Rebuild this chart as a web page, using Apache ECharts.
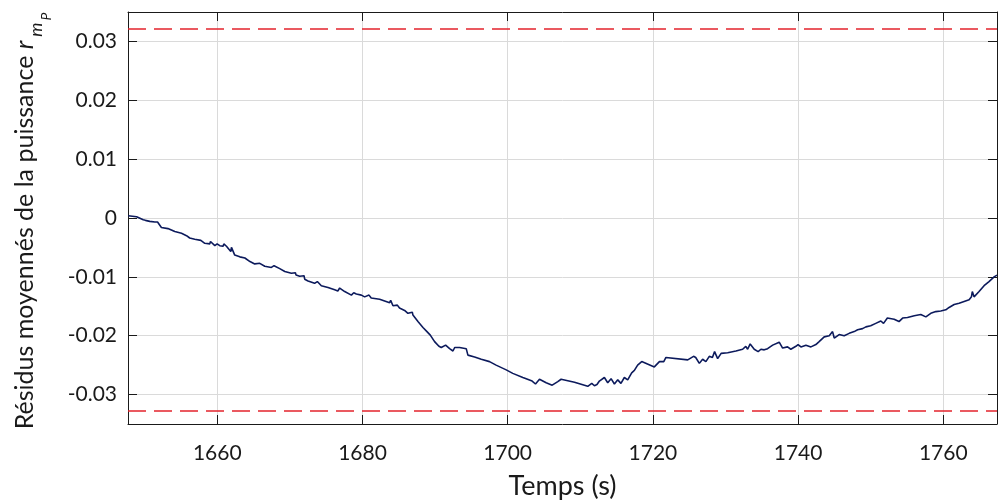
<!DOCTYPE html>
<html>
<head>
<meta charset="utf-8">
<script src="https://cdn.jsdelivr.net/npm/echarts@6/dist/echarts.min.js"></script>
<style>
  html, body { margin: 0; padding: 0; background: #ffffff; }
  #chart { width: 998px; height: 501px; }
</style>
</head>
<body>
<div id="chart"></div>
<script>
// Temps (s)
const temps = [
  1647.73, 1648.88, 1649.1, 1649.8, 1649.9, 1650.1, 1650.7, 1650.85, 1651.4, 1651.77,
  1651.86, 1652.3, 1653.2, 1654.15, 1655.07, 1655.76, 1655.85, 1656.2, 1656.9, 1657.73,
  1657.82, 1658.28, 1658.97, 1659.06, 1659.66, 1659.98, 1660.02, 1660.34, 1660.8, 1660.9,
  1661.26, 1661.86, 1661.95, 1662.4, 1663.1, 1663.8, 1664.0, 1664.5, 1665.16, 1665.85,
  1666.0, 1666.54, 1667.45, 1667.82, 1668.6, 1669.3, 1670.2, 1670.76, 1670.85, 1671.35,
  1671.95, 1672.04, 1672.5, 1672.77, 1673.4, 1673.78, 1674.33, 1675.25, 1676.17, 1676.6,
  1676.86, 1677.55, 1677.78, 1678.47, 1678.79, 1679.15, 1679.84, 1680.3, 1680.9, 1681.2,
  1681.45, 1682.36, 1683.74, 1683.88, 1684.2, 1684.8, 1685.1, 1685.8, 1686.0, 1686.26,
  1686.86, 1686.95, 1687.64, 1688.33, 1688.88, 1689.34, 1689.93, 1690.53, 1690.85, 1691.45,
  1692.0, 1692.46, 1692.7, 1693.37, 1694.29, 1694.52, 1695.44, 1696.36, 1696.6, 1697.5,
  1697.73, 1698.4, 1699.8, 1700.7, 1702.09, 1703.37, 1703.56, 1703.83, 1704.38, 1704.6,
  1705.3, 1706.13, 1706.9, 1707.36, 1709.2, 1711.03, 1711.58, 1711.95, 1712.3, 1712.63,
  1712.86, 1713.32, 1713.78, 1714.24, 1714.7, 1715.16, 1715.6, 1716.07, 1716.53, 1717.08,
  1717.45, 1717.9, 1718.46, 1720.2, 1720.43, 1720.9, 1721.12, 1721.5, 1721.8, 1724.8,
  1725.6, 1725.9, 1726.4, 1726.85, 1727.3, 1727.77, 1728.2, 1728.5, 1728.92, 1729.4,
  1730.3, 1731.44, 1732.36, 1732.8, 1733.05, 1733.4, 1733.96, 1734.5, 1734.88, 1735.34,
  1735.8, 1736.5, 1736.72, 1737.4, 1737.87, 1738.55, 1739.0, 1739.7, 1740.0, 1740.39,
  1741.08, 1741.77, 1742.45, 1742.9, 1743.6, 1744.29, 1744.75, 1744.98, 1745.66, 1746.35,
  1747.04, 1747.73, 1748.2, 1748.88, 1749.34, 1750.0, 1750.7, 1751.4, 1751.77, 1752.3,
  1753.23, 1753.9, 1754.4, 1755.07, 1756.0, 1756.9, 1757.6, 1758.28, 1758.97, 1759.66,
  1760.35, 1760.8, 1761.5, 1762.18, 1762.87, 1763.56, 1763.88, 1764.0, 1764.24, 1764.93,
  1765.62, 1766.3, 1767.0, 1767.4
];

// Résidus moyennés de la puissance
const residus = [
  0.00039, 0.00022, 0.0, -0.00029, -0.00012, -0.0004, -0.00057, -0.00029, -0.00069, -0.00069,
  -0.00097, -0.0016, -0.0018, -0.0023, -0.0026, -0.0030, -0.0027, -0.0034, -0.0036, -0.0038,
  -0.0035, -0.0043, -0.0044, -0.0040, -0.0047, -0.0044, -0.0042, -0.0047, -0.0048, -0.0044,
  -0.0048, -0.0057, -0.0050, -0.0063, -0.0066, -0.0068, -0.0066, -0.0074, -0.0078, -0.0077,
  -0.0075, -0.0082, -0.0084, -0.0081, -0.0086, -0.0091, -0.0094, -0.0093, -0.0097, -0.0099,
  -0.0098, -0.0104, -0.0107, -0.0104, -0.0111, -0.0108, -0.0115, -0.0118, -0.0122, -0.0124,
  -0.0119, -0.0125, -0.0122, -0.0131, -0.0127, -0.0129, -0.0131, -0.0134, -0.0131, -0.0136,
  -0.0135, -0.0138, -0.0144, -0.0140, -0.0149, -0.0148, -0.0153, -0.0157, -0.0155, -0.0162,
  -0.0160, -0.0165, -0.0176, -0.0186, -0.0193, -0.0199, -0.0210, -0.0218, -0.0220, -0.0216,
  -0.0222, -0.0226, -0.0220, -0.0220, -0.0222, -0.0233, -0.0236, -0.0240, -0.0239, -0.0244,
  -0.0243, -0.0250, -0.0258, -0.0264, -0.0271, -0.0277, -0.0274, -0.0282, -0.0274, -0.0275,
  -0.0280, -0.0284, -0.0278, -0.0274, -0.0279, -0.0286, -0.0281, -0.0285, -0.0283, -0.0277,
  -0.0279, -0.0271, -0.0280, -0.0273, -0.0282, -0.0275, -0.0281, -0.0271, -0.0275, -0.0263,
  -0.0259, -0.0250, -0.0244, -0.0253, -0.0250, -0.0244, -0.0241, -0.0244, -0.0237, -0.0241,
  -0.0235, -0.0237, -0.0247, -0.0240, -0.0244, -0.0235, -0.0237, -0.0227, -0.0239, -0.0230,
  -0.0229, -0.0226, -0.0223, -0.0218, -0.0223, -0.0214, -0.0223, -0.0227, -0.0223, -0.0224,
  -0.0222, -0.0216, -0.0213, -0.0211, -0.0221, -0.0219, -0.0223, -0.0218, -0.0215, -0.0219,
  -0.0216, -0.0219, -0.0215, -0.0210, -0.0202, -0.0200, -0.0193, -0.0204, -0.0198, -0.0200,
  -0.0196, -0.0193, -0.0190, -0.0188, -0.0185, -0.0183, -0.0179, -0.0175, -0.0179, -0.0170,
  -0.0172, -0.0176, -0.0170, -0.0169, -0.0166, -0.0164, -0.0168, -0.0162, -0.0159, -0.0158,
  -0.0156, -0.0152, -0.0147, -0.0145, -0.0142, -0.0139, -0.0134, -0.0125, -0.0134, -0.0125,
  -0.0115, -0.0108, -0.0100, -0.0097
];

// Seuils (tirets rouges)
const seuils = [0.0321, -0.0327];

// Graduations
const ticksX = [1660, 1680, 1700, 1720, 1740, 1760];
const ticksY = [-0.03, -0.02, -0.01, 0, 0.01, 0.02, 0.03];

const limitesX = [1647.7, 1767.4];
const limitesY = [-0.035, 0.035];

// Titre vertical : texte principal + r indicé m indicé P
const titreY = 'Résidus moyennés de la puissance ';
const titreYVar = 'r';
const titreYSub = 'm';
const titreYSubSub = 'P';

const FONT = 'Lato';
const AXIS_COLOR = '#1a1a1a';
const GRID_COLOR = '#dadada';
const XTITLE_SIZE = 27;
const YTITLE_SIZE = 25;
const SUB_SIZE = 18;
const SUBSUB_SIZE = 14;

const points = temps.map((t, i) => [t, residus[i]]);

// Text measurement so that the subscripts follow the main title
const measureCtx = document.createElement('canvas').getContext('2d');
function textWidth(str, size, italic) {
  measureCtx.font = (italic ? 'italic ' : '') + size + 'px ' + FONT;
  return measureCtx.measureText(str).width;
}

function makeXAxis(bottom) {
  return {
    type: 'value',
    position: bottom ? 'bottom' : 'top',
    min: limitesX[0],
    max: limitesX[1],
    name: bottom ? 'Temps (s)' : '',
    nameLocation: 'middle',
    nameGap: 49,
    nameTextStyle: { fontFamily: FONT, fontSize: XTITLE_SIZE, color: AXIS_COLOR },
    axisLine: { show: true, onZero: false, lineStyle: { color: AXIS_COLOR, width: 1 } },
    axisTick: { show: true, inside: true, length: 9, customValues: ticksX,
                lineStyle: { color: AXIS_COLOR, width: 1 } },
    axisLabel: { show: bottom, customValues: ticksX, margin: 19,
                 fontFamily: FONT, fontSize: 21, color: AXIS_COLOR,
                 formatter: v => String(Math.round(v)) },
    splitLine: { show: bottom, lineStyle: { color: GRID_COLOR, width: 1 } }
  };
}

function makeYAxis(left) {
  return {
    type: 'value',
    position: left ? 'left' : 'right',
    min: limitesY[0],
    max: limitesY[1],
    axisLine: { show: true, onZero: false, lineStyle: { color: AXIS_COLOR, width: 1 } },
    axisTick: { show: true, inside: true, length: 9, customValues: ticksY,
                lineStyle: { color: AXIS_COLOR, width: 1 } },
    axisLabel: { show: left, customValues: ticksY, margin: 11,
                 fontFamily: FONT, fontSize: 21, color: AXIS_COLOR,
                 formatter: v => String(Math.round(v * 100) / 100) },
    splitLine: { show: left, lineStyle: { color: GRID_COLOR, width: 1 } }
  };
}

// Vertical title built as a rotated group (reads bottom to top)
const wMain = textWidth(titreY, YTITLE_SIZE, false);
const wVar = textWidth(titreYVar, YTITLE_SIZE, true);
const wSub = textWidth(titreYSub, SUB_SIZE, true);
const titleLen = wMain + wVar + 4 + wSub + 2 + textWidth(titreYSubSub, SUBSUB_SIZE, true);

function titlePart(text, x, y, size, italic) {
  return {
    type: 'text',
    x: x,
    y: y,
    style: {
      text: text,
      fontFamily: FONT,
      fontSize: size,
      fontStyle: italic ? 'italic' : 'normal',
      fill: AXIS_COLOR,
      align: 'left',
      verticalAlign: 'middle'
    }
  };
}

const chart = echarts.init(document.getElementById('chart'), null, { renderer: 'canvas' });

chart.setOption({
  animation: false,
  backgroundColor: '#ffffff',
  grid: { left: 128, right: 1, top: 12, bottom: 77, containLabel: false, outerBoundsMode: 'none' },
  xAxis: [makeXAxis(true), makeXAxis(false)],
  yAxis: [makeYAxis(true), makeYAxis(false)],
  graphic: [
    {
      type: 'group',
      x: 25,
      y: 221 + titleLen / 2,
      rotation: Math.PI / 2,
      children: [
        titlePart(titreY, 0, 0, YTITLE_SIZE, false),
        titlePart(titreYVar, wMain, 0, YTITLE_SIZE, true),
        titlePart(titreYSub, wMain + wVar + 4, 11, SUB_SIZE, true),
        titlePart(titreYSubSub, wMain + wVar + 4 + wSub + 2, 21, SUBSUB_SIZE, true)
      ]
    }
  ],
  series: [
    {
      type: 'line',
      xAxisIndex: 0,
      yAxisIndex: 0,
      data: points,
      showSymbol: false,
      symbol: 'none',
      lineStyle: { color: '#0c1a5c', width: 1.6 },
      z: 3,
      markLine: {
        silent: true,
        symbol: 'none',
        precision: 5,
        label: { show: false },
        lineStyle: { color: '#e3232c', width: 1.5, type: [18, 8] },
        data: seuils.map(s => ({ yAxis: s }))
      }
    }
  ]
});
</script>
</body>
</html>
